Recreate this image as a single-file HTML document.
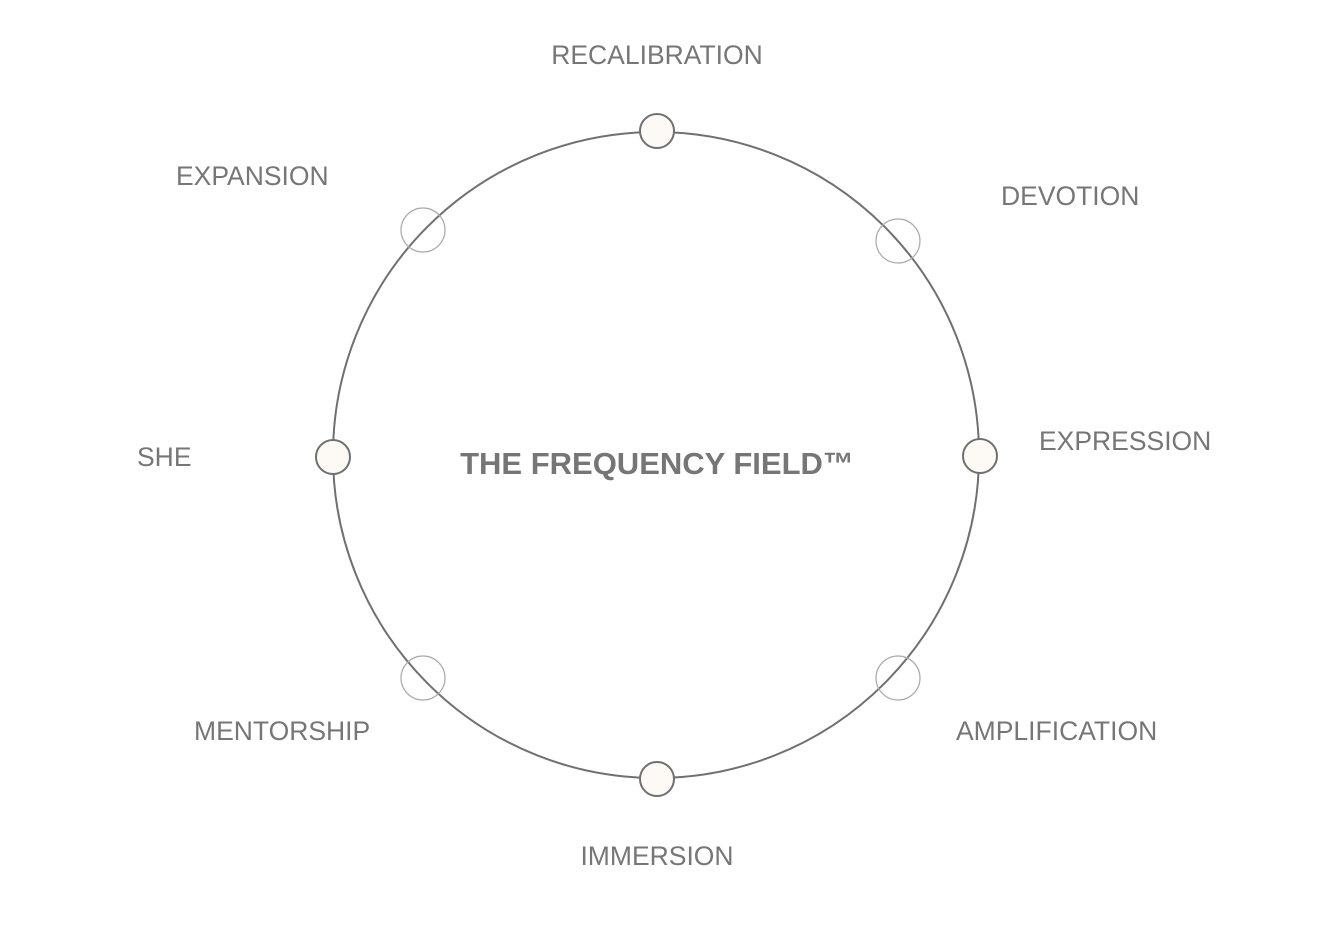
<!DOCTYPE html>
<html><head><style>
html,body{margin:0;padding:0;background:#fff;}
svg{display:block;}
text{font-family:"Liberation Sans",sans-serif;fill:#767676;font-size:26.5px;}
</style></head><body>
<svg width="1324" height="950" viewBox="0 0 1324 950">
<circle cx="656" cy="455" r="323" fill="none" stroke="#707070" stroke-width="2"/>
<g fill="none" stroke="#aaa" stroke-width="1.2">
<circle cx="423" cy="230" r="22"/>
<circle cx="898" cy="241" r="22"/>
<circle cx="898" cy="678" r="22"/>
<circle cx="423" cy="678" r="22"/>
</g>
<g fill="#fdfaf5" stroke="#707070" stroke-width="2">
<circle cx="657" cy="131" r="17"/>
<circle cx="980" cy="456" r="17"/>
<circle cx="657" cy="779" r="17"/>
<circle cx="333" cy="457" r="17"/>
</g>
<text x="657" y="64" text-anchor="middle">RECALIBRATION</text>
<text x="176" y="185">EXPANSION</text>
<text x="1001" y="205">DEVOTION</text>
<text x="1039" y="450">EXPRESSION</text>
<text x="137" y="466">SHE</text>
<text x="194" y="740">MENTORSHIP</text>
<text x="956" y="740">AMPLIFICATION</text>
<text x="657" y="865" text-anchor="middle">IMMERSION</text>
<text x="657" y="474" text-anchor="middle" style="font-size:31px;font-weight:bold;">THE FREQUENCY FIELD™</text>
</svg>
</body></html>
